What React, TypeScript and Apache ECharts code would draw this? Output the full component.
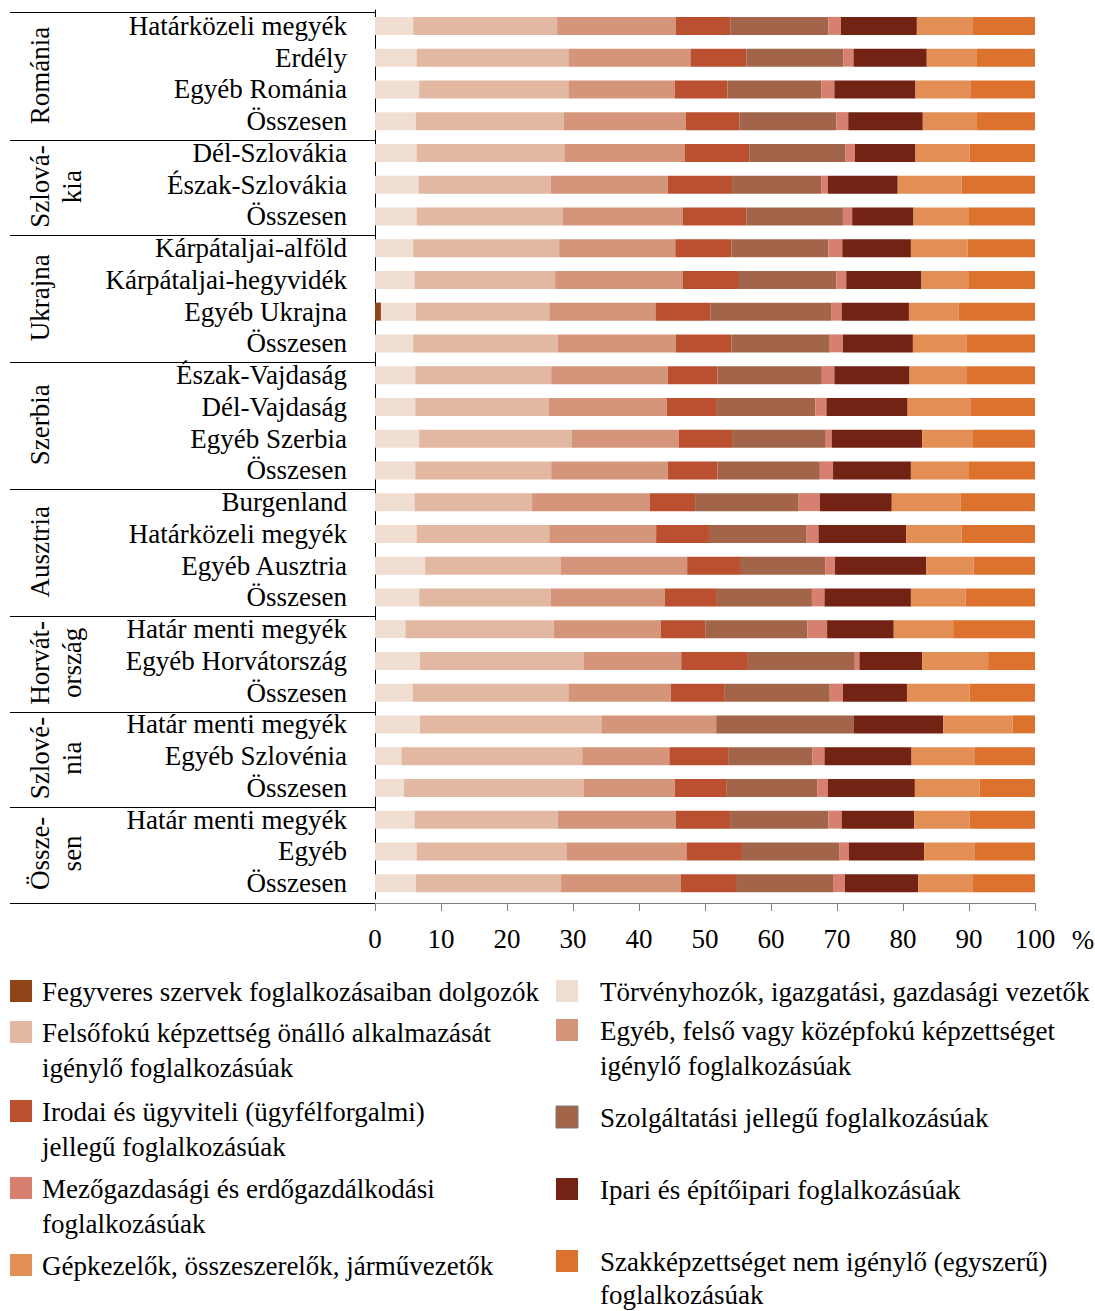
import React, { useEffect, useRef } from "react";
import * as echarts from "echarts";

const categories = [
  "Határközeli megyék", "Erdély", "Egyéb Románia", "Összesen",
  "Dél-Szlovákia", "Észak-Szlovákia", "Összesen",
  "Kárpátaljai-alföld", "Kárpátaljai-hegyvidék", "Egyéb Ukrajna", "Összesen",
  "Észak-Vajdaság", "Dél-Vajdaság", "Egyéb Szerbia", "Összesen",
  "Burgenland", "Határközeli megyék", "Egyéb Ausztria", "Összesen",
  "Határ menti megyék", "Egyéb Horvátország", "Összesen",
  "Határ menti megyék", "Egyéb Szlovénia", "Összesen",
  "Határ menti megyék", "Egyéb", "Összesen",
];

const groupNames = ["Románia", "Szlová-\nkia", "Ukrajna", "Szerbia", "Ausztria", "Horvát-\nország", "Szlové-\nnia", "Össze-\nsen"];
const groupSizes = [4, 3, 4, 4, 4, 3, 3, 3];

const seriesNames = [
  "Fegyveres szervek foglalkozásaiban dolgozók",
  "Törvényhozók, igazgatási, gazdasági vezetők",
  "Felsőfokú képzettség önálló alkalmazását igénylő foglalkozásúak",
  "Egyéb, felső vagy középfokú képzettséget igénylő foglalkozásúak",
  "Irodai és ügyviteli (ügyfélforgalmi) jellegű foglalkozásúak",
  "Szolgáltatási jellegű foglalkozásúak",
  "Mezőgazdasági és erdőgazdálkodási foglalkozásúak",
  "Ipari és építőipari foglalkozásúak",
  "Gépkezelők, összeszerelők, járművezetők",
  "Szakképzettséget nem igénylő (egyszerű) foglalkozásúak",
];

const legendTexts = [
  "Fegyveres szervek foglalkozásaiban dolgozók",
  "Törvényhozók, igazgatási, gazdasági vezetők",
  "Felsőfokú képzettség önálló alkalmazását\nigénylő foglalkozásúak",
  "Egyéb, felső vagy középfokú képzettséget\nigénylő foglalkozásúak",
  "Irodai és ügyviteli (ügyfélforgalmi)\njellegű foglalkozásúak",
  "Szolgáltatási jellegű foglalkozásúak",
  "Mezőgazdasági és erdőgazdálkodási\nfoglalkozásúak",
  "Ipari és építőipari foglalkozásúak",
  "Gépkezelők, összeszerelők, járművezetők",
  "Szakképzettséget nem igénylő (egyszerű)\nfoglalkozásúak",
];

const colors = [
  "#8E4318", "#F0DED2", "#E2B8A3", "#D4957A", "#BA5030",
  "#A3654A", "#D78070", "#722314", "#E38E54", "#DC722E",
];

const fegyveres = [0, 0, 0, 0, 0, 0, 0, 0, 0, 0.9, 0, 0, 0, 0, 0, 0, 0, 0, 0, 0, 0, 0, 0, 0, 0, 0, 0, 0];
const torvenyhozok = [5.8, 6.3, 6.7, 6.2, 6.3, 6.6, 6.3, 5.8, 6.0, 5.3, 5.8, 6.1, 6.1, 6.7, 6.1, 6.0, 6.3, 7.6, 6.7, 4.6, 6.8, 5.7, 6.8, 4.0, 4.4, 6.0, 6.3, 6.2];
const felsofoku = [21.8, 23.0, 22.6, 22.4, 22.4, 20.0, 22.1, 22.1, 21.3, 20.2, 21.9, 20.6, 20.2, 23.1, 20.6, 17.8, 20.1, 20.5, 19.9, 22.5, 24.8, 23.6, 27.5, 27.4, 27.2, 21.7, 22.7, 22.0];
const egyebFelso = [18.0, 18.5, 16.1, 18.5, 18.2, 17.8, 18.2, 17.6, 19.3, 16.1, 17.9, 17.7, 17.9, 16.2, 17.7, 17.8, 16.2, 19.2, 17.3, 16.2, 14.8, 15.5, 17.4, 13.2, 13.8, 17.9, 18.2, 18.1];
const irodai = [8.3, 8.5, 8.0, 8.1, 9.8, 9.7, 9.7, 8.5, 8.4, 8.3, 8.4, 7.5, 7.6, 8.1, 7.5, 6.9, 8.0, 8.0, 7.9, 6.8, 10.1, 8.2, 0, 8.9, 7.9, 8.2, 8.4, 8.4];
const szolgaltatasi = [14.8, 14.7, 14.2, 14.7, 14.6, 13.5, 14.6, 14.7, 14.9, 18.3, 14.9, 15.8, 14.9, 14.2, 15.5, 15.7, 14.8, 12.9, 14.4, 15.4, 16.2, 15.9, 20.8, 12.8, 13.7, 14.9, 14.8, 14.8];
const mezogazdasagi = [1.9, 1.5, 2.0, 1.8, 1.4, 1.0, 1.4, 2.1, 1.5, 1.6, 2.0, 1.9, 1.7, 0.9, 2.0, 3.2, 1.8, 1.5, 1.9, 3.0, 0.7, 2.0, 0, 1.8, 1.6, 2.0, 1.4, 1.7];
const ipari = [11.5, 11.1, 12.3, 11.3, 9.2, 10.6, 9.3, 10.4, 11.4, 10.2, 10.6, 11.4, 12.3, 13.7, 11.8, 10.9, 13.3, 13.8, 13.1, 10.1, 9.5, 9.7, 13.6, 13.2, 13.2, 11.0, 11.4, 11.1];
const gepkezelok = [8.4, 7.6, 8.4, 8.1, 8.2, 9.7, 8.4, 8.6, 7.2, 7.5, 8.1, 8.7, 9.5, 7.6, 8.8, 10.4, 8.4, 7.2, 8.3, 9.0, 10.0, 9.5, 10.5, 9.5, 9.8, 8.4, 7.7, 8.2];
const szakkepzettseg = [9.5, 8.8, 9.7, 8.9, 9.9, 11.1, 10.0, 10.2, 10.0, 11.6, 10.4, 10.3, 9.8, 9.5, 10.0, 11.3, 11.1, 9.3, 10.5, 12.4, 7.1, 9.9, 3.4, 9.2, 8.4, 9.9, 9.1, 9.5];

const seriesData = [fegyveres, torvenyhozok, felsofoku, egyebFelso, irodai, szolgaltatasi, mezogazdasagi, ipari, gepkezelok, szakkepzettseg];

const xTickLabels = ["0", "10", "20", "30", "40", "50", "60", "70", "80", "90", "100"];

// layout
const FONT = "Liberation Serif, Times New Roman, serif";
const FS = 27;
const GRID_LEFT = 375;
const GRID_TOP = 10;
const GRID_W = 660;
const GRID_H = 889;
const AXIS_OFFSET = 4;
const LEGEND_Y_LEFT = [992, 1033, 1112, 1189, 1266];
const LEGEND_Y_RIGHT = [992, 1031, 1118, 1190, 1262];
const LEGEND_LH_LEFT = [35, 35, 35, 35, 35];
const LEGEND_LH_RIGHT = [35, 35, 35, 35, 33];

export default function App() {
  const ref = useRef<HTMLDivElement>(null);

  useEffect(() => {
    document.body.style.margin = "0";
    const chart = echarts.init(ref.current!, null, { renderer: "svg" });
    const band = GRID_H / categories.length;
    const axisY = GRID_TOP + GRID_H + AXIS_OFFSET;

    const graphics: any[] = [];
    // separator lines in the label area
    let idx = 0;
    const bounds = [0];
    groupSizes.forEach((n) => {
      idx += n;
      bounds.push(idx);
    });
    bounds.forEach((b, i) => {
      let y: number;
      if (i === 0) y = GRID_TOP + 2.5;
      else if (i === bounds.length - 1) y = Math.round(axisY) + 0.5;
      else y = Math.round(GRID_TOP + b * band + 3) + 0.5;
      graphics.push({
        type: "line",
        shape: { x1: 10, y1: y, x2: GRID_LEFT, y2: y },
        style: { stroke: "#000", lineWidth: 1 },
        silent: true,
      });
    });
    // group labels
    let start = 0;
    groupNames.forEach((g, i) => {
      const n = groupSizes[i];
      const cy = GRID_TOP + (start + n / 2) * band + 2;
      start += n;
      const twoLine = g.indexOf("\n") >= 0;
      graphics.push({
        type: "text",
        x: twoLine ? 56 : 40,
        y: cy,
        rotation: Math.PI / 2,
        style: {
          text: g,
          fontSize: FS,
          fontFamily: FONT,
          fill: "#000",
          align: "center",
          verticalAlign: "middle",
          lineHeight: 32,
        },
        silent: true,
      });
    });
    // percent sign
    graphics.push({
      type: "text",
      x: 1083,
      y: axisY + 37,
      style: { text: "%", fontSize: FS, fontFamily: FONT, fill: "#000", align: "center", verticalAlign: "middle" },
      silent: true,
    });
    // legend
    seriesNames.forEach((_, i) => {
      const col = i % 2;
      const row = Math.floor(i / 2);
      const cy = col === 0 ? LEGEND_Y_LEFT[row] : LEGEND_Y_RIGHT[row];
      const lh = col === 0 ? LEGEND_LH_LEFT[row] : LEGEND_LH_RIGHT[row];
      const sx = col === 0 ? 10 : 556;
      const tx = col === 0 ? 42 : 600;
      graphics.push({
        type: "rect",
        shape: { x: sx, y: cy - 12, width: 22, height: 22 },
        style: { fill: colors[i], stroke: i === 5 ? "#7a7a7a" : null, lineWidth: 1 },
        silent: true,
      });
      graphics.push({
        type: "text",
        x: tx,
        y: cy - lh / 2,
        style: {
          text: legendTexts[i],
          fontSize: FS,
          fontFamily: FONT,
          fill: "#000",
          align: "left",
          verticalAlign: "top",
          lineHeight: lh,
        },
        silent: true,
      });
    });

    const option: any = {
      animation: false,
      backgroundColor: "#fff",
      grid: { left: GRID_LEFT, top: GRID_TOP, width: GRID_W, height: GRID_H, containLabel: false },
      xAxis: {
        type: "value",
        min: 0,
        max: 100,
        interval: 10,
        offset: AXIS_OFFSET,
        axisLine: { show: true, lineStyle: { color: "#7f7f7f", width: 1 } },
        axisTick: { show: true, length: 8, lineStyle: { color: "#7f7f7f" } },
        splitLine: { show: false },
        axisLabel: {
          fontSize: FS,
          fontFamily: FONT,
          color: "#000",
          margin: 22,
          formatter: (v: number) => xTickLabels[Math.round(v / 10)] ?? String(v),
        },
      },
      yAxis: {
        type: "category",
        data: categories,
        inverse: true,
        axisLine: { show: true, lineStyle: { color: "#000", width: 1 } },
        axisTick: { show: false },
        splitLine: { show: false },
        axisLabel: { fontSize: FS, fontFamily: FONT, color: "#000", margin: 28, interval: 0 },
      },
      series: seriesNames.map((name, i) => ({
        name,
        type: "bar",
        stack: "total",
        barWidth: 18,
        silent: true,
        itemStyle: { color: colors[i] },
        data: seriesData[i],
      })),
      graphic: graphics,
    };
    chart.setOption(option);
    return () => chart.dispose();
  }, []);

  return <div ref={ref} style={{ width: 1095, height: 1311 }} />;
}
